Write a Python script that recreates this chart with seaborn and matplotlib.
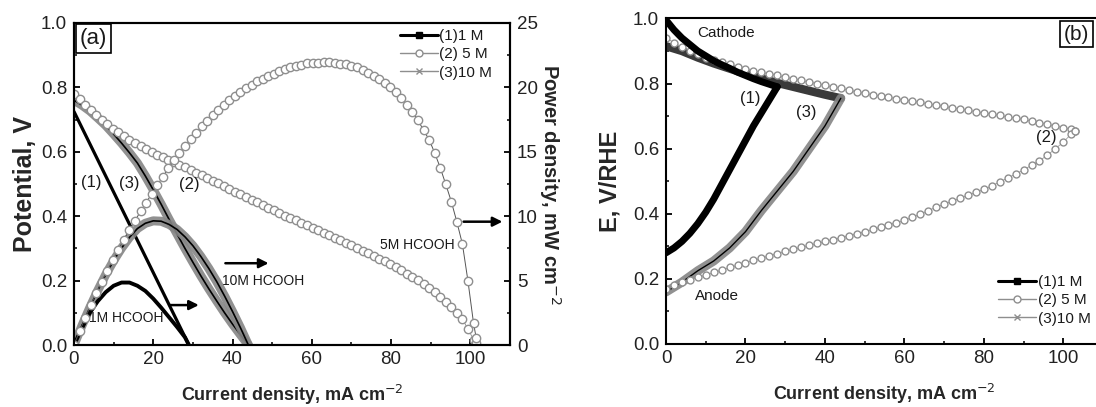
import numpy as np
import pandas as pd
import matplotlib
matplotlib.use("Agg")
import matplotlib.pyplot as plt
from matplotlib.lines import Line2D
import seaborn as sns

# ---------------- data: panel (a) ----------------
# 1 M HCOOH
j1 = [0, 2, 4, 6, 8, 10, 12, 14, 16, 18, 20, 22, 24, 26, 28, 29]
v1 = [0.725, 0.675, 0.625, 0.575, 0.525, 0.475, 0.425, 0.375, 0.325, 0.275,
      0.225, 0.175, 0.125, 0.075, 0.025, 0.0]
p1 = [0, 1.3, 2.5, 3.4, 4.1, 4.6, 4.85, 4.85, 4.6, 4.2, 3.6, 2.9, 2.15, 1.4, 0.6, 0]

# 10 M HCOOH
j10 = [0, 2, 4, 6, 8, 10, 12, 14, 16, 18, 20, 22, 24, 26, 28, 30, 32, 34, 36, 38, 40, 42, 44]
v10 = [0.76, 0.745, 0.727, 0.705, 0.682, 0.655, 0.627, 0.597, 0.565, 0.525, 0.482,
       0.437, 0.39, 0.345, 0.30, 0.257, 0.215, 0.175, 0.137, 0.1, 0.065, 0.032, 0.0]
p10 = [0, 1.49, 2.91, 4.23, 5.46, 6.55, 7.52, 8.36, 9.04, 9.45, 9.64, 9.61, 9.36,
       8.97, 8.4, 7.71, 6.88, 5.95, 4.93, 3.8, 2.6, 1.34, 0]

# 5 M HCOOH
j5 = [0, 1.4, 2.8, 4.2, 5.6, 7.0, 8.4, 9.8, 11.2, 12.6, 14.0, 15.4, 16.8, 18.2, 19.6,
      21.0, 22.4, 23.8, 25.2, 26.6, 28.0, 29.4, 30.8, 32.2, 33.6, 35.0, 36.4, 37.8,
      39.2, 40.6, 42.0, 43.4, 44.8, 46.2, 47.6, 49.0, 50.4, 51.8, 53.2, 54.6, 56.0,
      57.4, 58.8, 60.2, 61.6, 63.0, 64.4, 65.8, 67.2, 68.6, 70.0, 71.4, 72.8, 74.2,
      75.6, 77.0, 78.4, 79.8, 81.2, 82.6, 84.0, 85.4, 86.8, 88.2, 89.6, 91.0, 92.4,
      93.8, 95.2, 96.6, 98.0, 99.4, 100.8, 101.5]
v5 = [0.780, 0.763, 0.746, 0.730, 0.714, 0.700, 0.686, 0.672, 0.660, 0.649, 0.638,
      0.627, 0.617, 0.608, 0.598, 0.590, 0.583, 0.576, 0.569, 0.560, 0.552, 0.544,
      0.535, 0.527, 0.518, 0.510, 0.502, 0.493, 0.485, 0.476, 0.468, 0.460, 0.451,
      0.443, 0.434, 0.426, 0.418, 0.410, 0.402, 0.395, 0.387, 0.379, 0.372, 0.364,
      0.356, 0.349, 0.341, 0.333, 0.325, 0.318, 0.310, 0.302, 0.293, 0.285, 0.276,
      0.268, 0.260, 0.251, 0.242, 0.232, 0.222, 0.212, 0.201, 0.189, 0.178, 0.164,
      0.149, 0.133, 0.117, 0.099, 0.080, 0.050, 0.017, 0.005]
p5 = [0, 1.07, 2.09, 3.07, 4.00, 4.90, 5.76, 6.59, 7.40, 8.18, 8.93, 9.66, 10.37,
      11.06, 11.72, 12.39, 13.06, 13.71, 14.34, 14.90, 15.46, 15.99, 16.48, 16.97,
      17.40, 17.85, 18.27, 18.64, 19.01, 19.33, 19.66, 19.96, 20.20, 20.47, 20.66,
      20.87, 21.07, 21.24, 21.39, 21.57, 21.67, 21.75, 21.87, 21.91, 21.93, 21.99,
      21.96, 21.91, 21.84, 21.81, 21.70, 21.56, 21.33, 21.15, 20.87, 20.64, 20.38,
      20.03, 19.65, 19.16, 18.65, 18.10, 17.45, 16.67, 15.95, 14.92, 13.77, 12.48,
      11.14, 9.56, 7.84, 4.97, 1.71, 0.51]

# ---------------- data: panel (b) ----------------
jb1 = [0, 2, 4, 6, 8, 10, 12, 14, 16, 18, 20, 22, 24, 26, 28]
cat1 = [0.995, 0.965, 0.94, 0.92, 0.90, 0.885, 0.87, 0.858, 0.847, 0.835, 0.825,
        0.815, 0.806, 0.798, 0.79]
ano1 = [0.28, 0.295, 0.315, 0.34, 0.37, 0.405, 0.445, 0.49, 0.535, 0.58, 0.625,
        0.67, 0.71, 0.75, 0.79]

jb10 = [0, 4, 8, 12, 16, 20, 24, 28, 32, 36, 40, 44]
cat10 = [0.915, 0.90, 0.88, 0.862, 0.846, 0.83, 0.816, 0.802, 0.79, 0.778, 0.766, 0.755]
ano10 = [0.16, 0.19, 0.225, 0.255, 0.295, 0.345, 0.41, 0.47, 0.53, 0.60, 0.67, 0.755]

jb5 = [0, 2, 4, 6, 8, 10, 12, 14, 16, 18, 20, 22, 24, 26, 28, 30, 32, 34, 36, 38, 40,
       42, 44, 46, 48, 50, 52, 54, 56, 58, 60, 62, 64, 66, 68, 70, 72, 74, 76, 78, 80,
       82, 84, 86, 88, 90, 92, 94, 96, 98, 100, 102, 103]
cat5 = [0.940, 0.926, 0.912, 0.900, 0.890, 0.880, 0.873, 0.866, 0.859, 0.852, 0.845,
        0.840, 0.835, 0.830, 0.825, 0.820, 0.815, 0.810, 0.805, 0.800, 0.795, 0.790,
        0.785, 0.780, 0.775, 0.770, 0.766, 0.762, 0.758, 0.754, 0.750, 0.746, 0.742,
        0.738, 0.734, 0.730, 0.726, 0.722, 0.718, 0.714, 0.710, 0.706, 0.702, 0.698,
        0.694, 0.690, 0.685, 0.680, 0.675, 0.670, 0.665, 0.659, 0.655]
ano5 = [0.170, 0.180, 0.190, 0.198, 0.205, 0.212, 0.220, 0.227, 0.235, 0.242, 0.250,
        0.257, 0.264, 0.271, 0.278, 0.285, 0.291, 0.297, 0.303, 0.309, 0.315, 0.321,
        0.327, 0.333, 0.339, 0.345, 0.352, 0.359, 0.366, 0.373, 0.380, 0.389, 0.399,
        0.410, 0.420, 0.430, 0.439, 0.448, 0.457, 0.466, 0.475, 0.486, 0.498, 0.510,
        0.522, 0.535, 0.549, 0.563, 0.580, 0.600, 0.620, 0.645, 0.655]

legend_labels = ["(1)1 M", "(2) 5 M", "(3)10 M"]

# ---------------- style ----------------
sns.set_theme(style="ticks")
plt.rcParams["font.family"] = ["Liberation Sans", "DejaVu Sans"]
plt.rcParams.update({
    "axes.linewidth": 1.5,
    "xtick.direction": "in", "ytick.direction": "in",
    "xtick.major.size": 4, "ytick.major.size": 4,
    "xtick.minor.size": 2.5, "ytick.minor.size": 2.5,
    "xtick.major.width": 1.3, "ytick.major.width": 1.3,
    "xtick.minor.width": 1.1, "ytick.minor.width": 1.1,
    "xtick.labelsize": 13.5, "ytick.labelsize": 13.5,
    "xtick.major.pad": 4, "ytick.major.pad": 5,
    "axes.edgecolor": "black",
    "xtick.color": "black", "ytick.color": "black",
    "xtick.labelcolor": "#222222", "ytick.labelcolor": "#222222",
    "text.color": "#1a1a1a",
})

fig = plt.figure(figsize=(10.96, 4.07), dpi=100)
ax = fig.add_axes([0.0675, 0.1523, 0.3978, 0.7912])
ax2 = ax.twinx()
axb = fig.add_axes([0.6077, 0.1548, 0.3987, 0.7998])

GRAY5 = "#8e8e8e"
BAND = "#858585"

def line(a, x, y, **kw):
    df = pd.DataFrame({"x": x, "y": y})
    sns.lineplot(data=df, x="x", y="y", ax=a, sort=False, estimator=None, **kw)

# ---- panel (a): polarization (left axis)
line(ax, j10, v10, color=BAND, lw=6.5, alpha=0.9)
line(ax, j10, v10, color="black", lw=1.2)
line(ax, j1, v1, color="black", lw=2.3)
line(ax, j5, v5, color=GRAY5, lw=0.6, marker="o", ms=6, mfc="white",
     mec=GRAY5, mew=1.0)

# ---- panel (a): power density (right axis)
line(ax2, j10, p10, color=BAND, lw=6.5, alpha=0.9)
line(ax2, j10, p10, color="black", lw=1.2)
line(ax2, j1, p1, color="black", lw=2.8)
line(ax2, j5, p5, color="#555555", lw=0.7, marker="o", ms=6, mfc="white",
     mec=GRAY5, mew=1.0)

ax.set_xlim(0, 110)
ax.set_ylim(0, 1.0)
ax2.set_ylim(0, 25)
ax.set_xticks([0, 20, 40, 60, 80, 100])
ax.set_xticks(np.arange(10, 110, 20), minor=True)
ax.set_yticks([0.0, 0.2, 0.4, 0.6, 0.8, 1.0])
ax.set_yticks([0.1, 0.3, 0.5, 0.7, 0.9], minor=True)
ax.yaxis.set_major_formatter(matplotlib.ticker.FormatStrFormatter("%.1f"))
ax2.set_yticks([0, 5, 10, 15, 20, 25])
ax2.set_yticks([2.5, 7.5, 12.5, 17.5, 22.5], minor=True)
ax.tick_params(top=False, right=False)
ax2.tick_params(which="both", right=True, direction="in")
for s in ax2.spines.values():
    s.set_linewidth(1.5)

ax.set_xlabel("Current density, mA cm$^{-2}$", fontsize=13, fontweight="bold", labelpad=11)
ax.set_ylabel("Potential, V", fontsize=18, fontweight="bold", labelpad=3)
ax2.set_ylabel("Power density, mW cm$^{-2}$", fontsize=14.5, fontweight="bold",
               rotation=270, labelpad=18)

ax.text(5, 0.951, "(a)", fontsize=16, ha="center", va="center",
        bbox=dict(boxstyle="square,pad=0.18", fc="white", ec="black", lw=1.2))
ax.text(4.4, 0.505, "(1)", fontsize=12, ha="center", va="center")
ax.text(14.0, 0.503, "(3)", fontsize=12, ha="center", va="center")
ax.text(29.1, 0.497, "(2)", fontsize=12, ha="center", va="center")
ax.text(13.2, 0.083, "1M HCOOH", fontsize=10, ha="center", va="center")
ax.text(47.8, 0.200, "10M HCOOH", fontsize=10, ha="center", va="center")
ax.text(86.5, 0.310, "5M HCOOH", fontsize=10, ha="center", va="center")
arrow = dict(arrowstyle="-|>", lw=1.8, color="black", mutation_scale=14)
ax.annotate("", xy=(32.2, 0.124), xytext=(23.3, 0.124), arrowprops=arrow)
ax.annotate("", xy=(49.8, 0.254), xytext=(37.5, 0.254), arrowprops=arrow)
ax.annotate("", xy=(108.8, 0.383), xytext=(97.6, 0.383), arrowprops=arrow)

handles = [
    Line2D([], [], color="black", lw=2.2, marker="s", ms=4),
    Line2D([], [], color=GRAY5, lw=1.0, marker="o", ms=5, mfc="white", mec=GRAY5),
    Line2D([], [], color=GRAY5, lw=1.0, marker="x", ms=5, mec=GRAY5),
]
ax2.legend(handles, legend_labels, frameon=False, loc="upper left",
           bbox_to_anchor=(0.733, 1.0), fontsize=11, handlelength=2.5,
           handletextpad=0.1, labelspacing=0.28, borderaxespad=0.0)

# ---- panel (b)
line(axb, jb10, cat10, color="#3a3a3a", lw=6)
line(axb, jb10, ano10, color=BAND, lw=6.5, alpha=0.9)
line(axb, jb10, ano10, color="black", lw=1.0)
line(axb, jb5, cat5, color=GRAY5, lw=0.5, marker="o", ms=5, mfc="white", mec=GRAY5, mew=1.0)
line(axb, jb5, ano5, color=GRAY5, lw=0.5, marker="o", ms=5, mfc="white", mec=GRAY5, mew=1.0)
line(axb, jb1, cat1, color="black", lw=5)
line(axb, jb1, ano1, color="black", lw=5)

axb.set_xlim(0, 110)
axb.set_ylim(0, 1.0)
axb.set_xticks([0, 20, 40, 60, 80, 100])
axb.set_xticks(np.arange(10, 110, 20), minor=True)
axb.set_yticks([0.0, 0.2, 0.4, 0.6, 0.8, 1.0])
axb.set_yticks([0.1, 0.3, 0.5, 0.7, 0.9], minor=True)
axb.yaxis.set_major_formatter(matplotlib.ticker.FormatStrFormatter("%.1f"))
axb.tick_params(top=False, right=False)
axb.set_xlabel("Current density, mA cm$^{-2}$", fontsize=13, fontweight="bold", labelpad=11)
axb.set_ylabel("E, V/RHE", fontsize=17, fontweight="bold", labelpad=8)

axb.text(15.2, 0.956, "Cathode", fontsize=11, ha="center", va="center")
axb.text(12.7, 0.148, "Anode", fontsize=11, ha="center", va="center")
axb.text(21.2, 0.753, "(1)", fontsize=12, ha="center", va="center")
axb.text(35.4, 0.712, "(3)", fontsize=12, ha="center", va="center")
axb.text(95.8, 0.633, "(2)", fontsize=12, ha="center", va="center")
axb.text(100.2, 0.952, "(b)", fontsize=15, ha="left", va="center",
         bbox=dict(boxstyle="square,pad=0.18", fc="white", ec="black", lw=1.2))

axb.legend(handles, legend_labels, frameon=False, loc="upper left",
           bbox_to_anchor=(0.746, 0.2304), fontsize=11, handlelength=2.5,
           handletextpad=0.1, labelspacing=0.28, borderaxespad=0.0)

fig.savefig("out.png", dpi=100)
